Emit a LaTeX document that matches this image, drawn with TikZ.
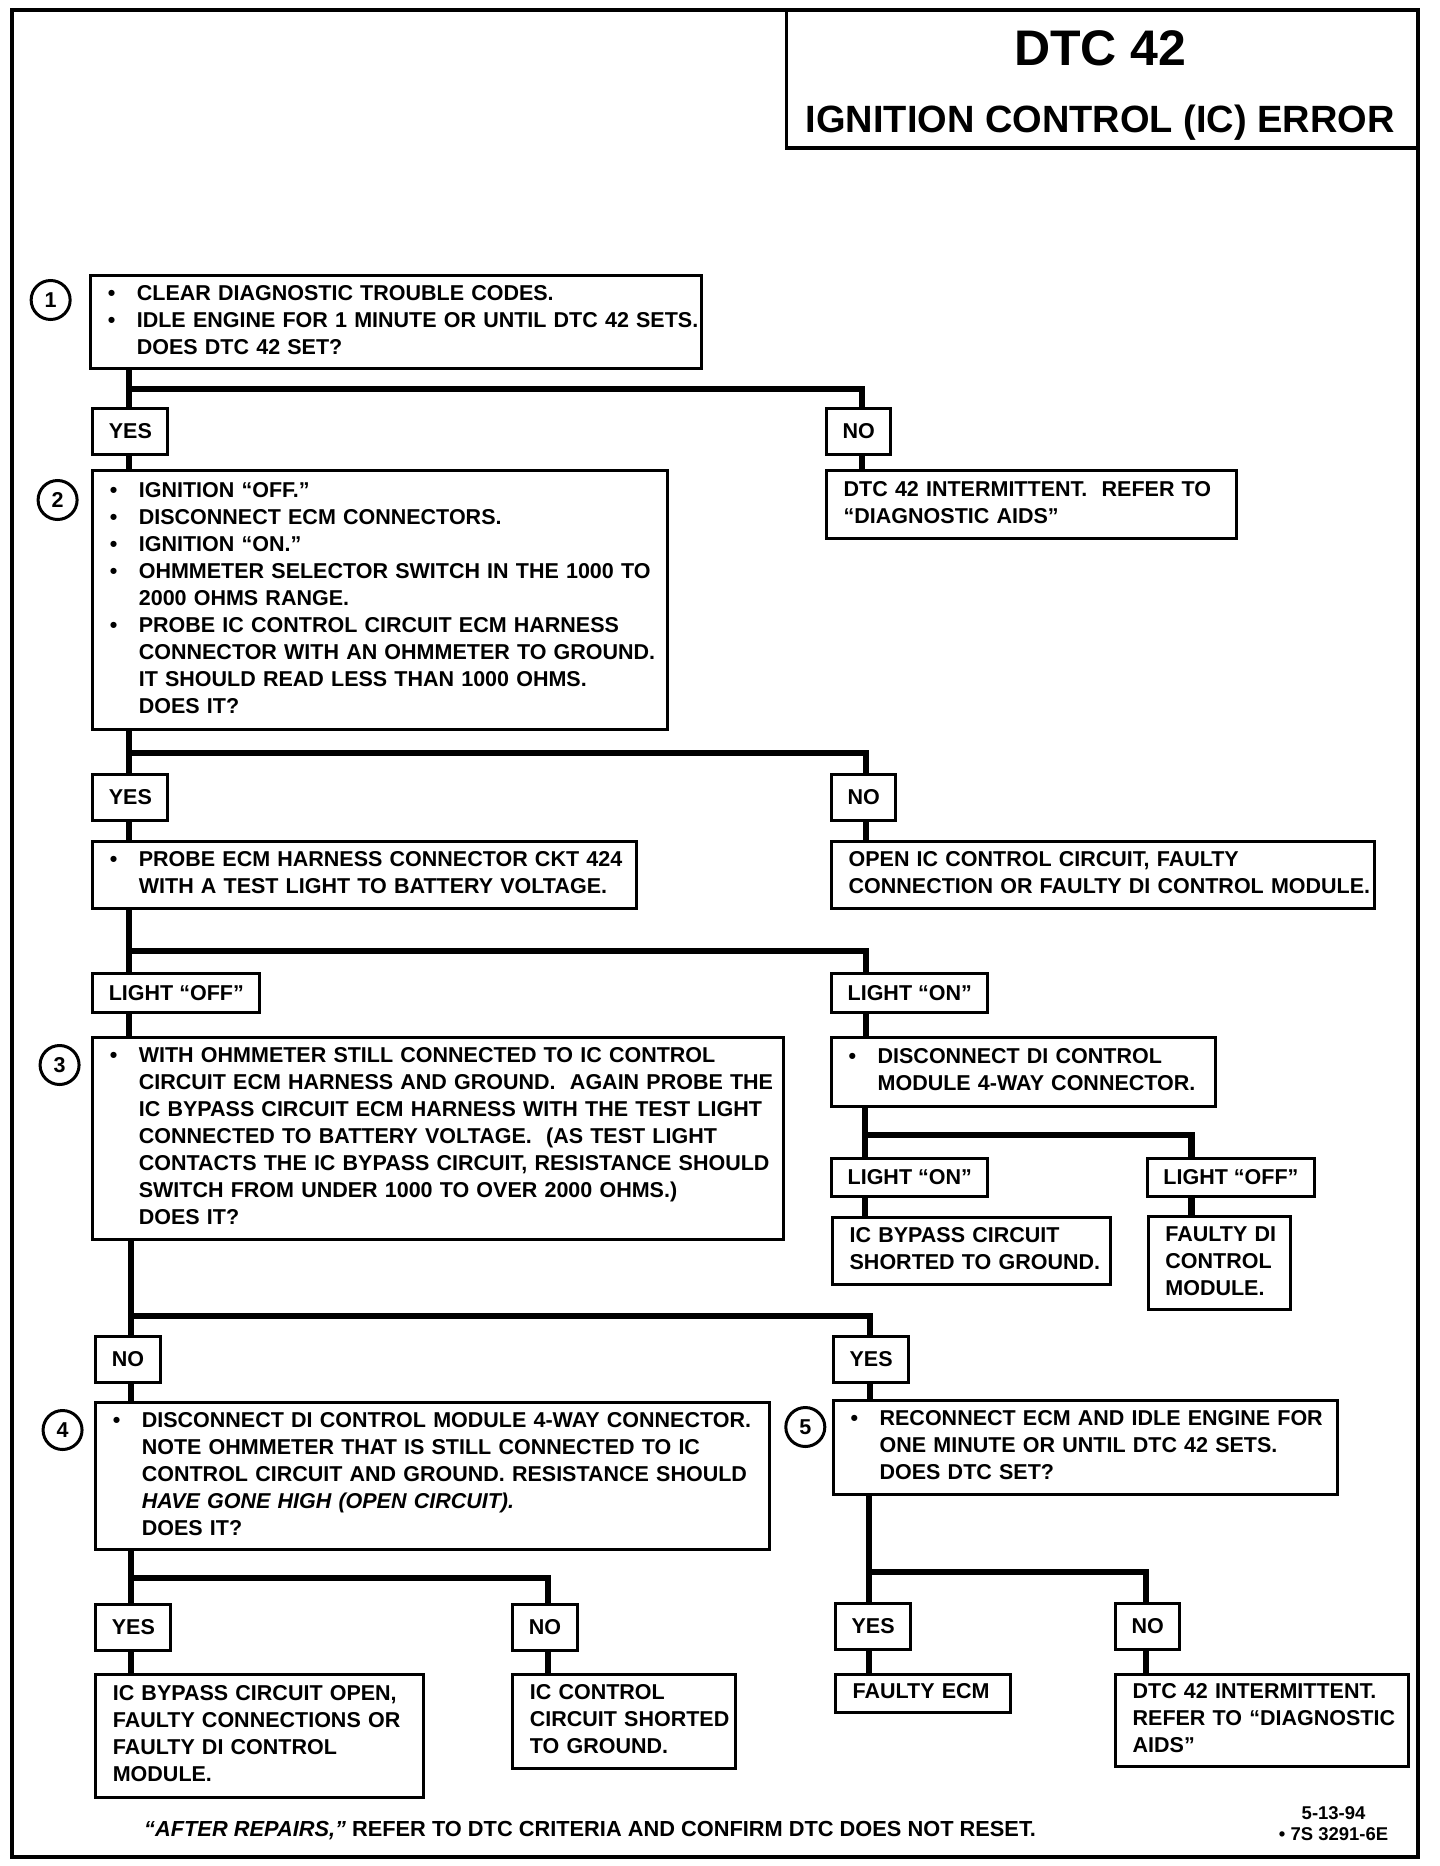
\documentclass[tikz,border=0pt]{standalone}
\usepackage{fontspec}
\setmainfont{Liberation Sans}
\usetikzlibrary{positioning,calc}

\newcommand{\bul}{\makebox[29pt][l]{\textbullet}}
\newcommand{\nobul}{\hspace*{29pt}}
\newcommand{\boxtext}[1]{\noindent\begin{tabular}{@{}l@{}}#1\end{tabular}}

\tikzset{
  flow/.style={line width=6.5pt},
  box/.style={draw, line width=3pt, anchor=north west, inner xsep=17pt, inner ysep=0pt, align=left},
  lbl/.style={draw, line width=3pt, anchor=north west, inner xsep=16pt, inner ysep=0pt, minimum height=46pt},
  num/.style={circle, draw, line width=3pt, minimum size=39pt, inner sep=0pt},
}

\begin{document}
\begin{tikzpicture}[x=1pt,y=-1pt,font=\bfseries\fontsize{21.5}{27}\selectfont]
\useasboundingbox (0,0) rectangle (1440,1866);
\begin{scope}[xscale=0.993]

% frame and title
\draw[line width=3.5pt] (12,10) rectangle (1428,1857);
\draw[line width=3.5pt] (792,10) rectangle (1428,148);
\node[anchor=base, inner sep=0pt, font=\bfseries\fontsize{50}{52}\selectfont] (ttl1) at (1108,65) {DTC 42};
\node[anchor=base, inner sep=0pt, font=\bfseries\fontsize{38}{40}\selectfont] (ttl2) at (1108,132) {IGNITION CONTROL (IC) ERROR};

% step numbers
\foreach \i/\x/\y in {1/51/300, 2/58/500, 3/60/1065, 4/63/1430, 5/811/1427}
  \node[num] (c\i) at (\x,\y) {\i};

% step 1
\node[box, minimum width=611, text width=577, minimum height=93] (b1) at (90,274) {\boxtext{
\bul CLEAR DIAGNOSTIC TROUBLE CODES.\\
\bul IDLE ENGINE FOR 1 MINUTE OR UNTIL DTC 42 SETS.\\
\nobul DOES DTC 42 SET?}};
\node[lbl] (yes1) at (92,407) {YES};
\node[lbl] (no1) at (831,407) {NO};
\node[box, minimum width=410, text width=376, minimum height=68] (r1) at (831,469) {\boxtext{
DTC 42 INTERMITTENT.\ \ REFER TO\\
“DIAGNOSTIC AIDS”}};

% step 2
\node[box, minimum width=575, text width=541, minimum height=259] (b2) at (92,469) {\boxtext{
\bul IGNITION “OFF.”\\
\bul DISCONNECT ECM CONNECTORS.\\
\bul IGNITION “ON.”\\
\bul OHMMETER SELECTOR SWITCH IN THE 1000 TO\\
\nobul 2000 OHMS RANGE.\\
\bul PROBE IC CONTROL CIRCUIT ECM HARNESS\\
\nobul CONNECTOR WITH AN OHMMETER TO GROUND.\\
\nobul IT SHOULD READ LESS THAN 1000 OHMS.\\
\nobul DOES IT?}};
\node[lbl] (yes2) at (92,773) {YES};
\node[lbl] (no2) at (836,773) {NO};
\node[box, minimum width=544, text width=510, minimum height=67] (probe) at (92,840) {\boxtext{
\bul PROBE ECM HARNESS CONNECTOR CKT 424\\
\nobul WITH A TEST LIGHT TO BATTERY VOLTAGE.}};
\node[box, minimum width=543, text width=509, minimum height=67] (r2) at (836,840) {\boxtext{
OPEN IC CONTROL CIRCUIT, FAULTY\\
CONNECTION OR FAULTY DI CONTROL MODULE.}};
\node[lbl, minimum height=39] (loff) at (92,972) {LIGHT “OFF”};
\node[lbl, minimum height=39] (lon) at (836,972) {LIGHT “ON”};

% step 3
\node[box, minimum width=691, text width=657, minimum height=202] (b3) at (92,1036) {\boxtext{
\bul WITH OHMMETER STILL CONNECTED TO IC CONTROL\\
\nobul CIRCUIT ECM HARNESS AND GROUND.\ \ AGAIN PROBE THE\\
\nobul IC BYPASS CIRCUIT ECM HARNESS WITH THE TEST LIGHT\\
\nobul CONNECTED TO BATTERY VOLTAGE.\ \ (AS TEST LIGHT\\
\nobul CONTACTS THE IC BYPASS CIRCUIT, RESISTANCE SHOULD\\
\nobul SWITCH FROM UNDER 1000 TO OVER 2000 OHMS.)\\
\nobul DOES IT?}};
\node[box, minimum width=384, text width=350, minimum height=69] (disc) at (836,1036) {\boxtext{
\bul DISCONNECT DI CONTROL\\
\nobul MODULE 4-WAY CONNECTOR.}};
\node[lbl, minimum height=38] (slon) at (836,1157) {LIGHT “ON”};
\node[lbl, minimum height=38] (sloff) at (1154,1157) {LIGHT “OFF”};
\node[box, minimum width=278, text width=244, minimum height=67] (r3) at (837,1216) {\boxtext{
IC BYPASS CIRCUIT\\
SHORTED TO GROUND.}};
\node[box, minimum width=142, text width=108, minimum height=93] (r4) at (1155,1215) {\boxtext{
FAULTY DI\\
CONTROL\\
MODULE.}};
\node[lbl] (no3) at (95,1335) {NO};
\node[lbl] (yes3) at (838,1335) {YES};

% steps 4 and 5
\node[box, minimum width=674, text width=640, minimum height=147] (b4) at (95,1401) {\boxtext{
\bul DISCONNECT DI CONTROL MODULE 4-WAY CONNECTOR.\\
\nobul NOTE OHMMETER THAT IS STILL CONNECTED TO IC\\
\nobul CONTROL CIRCUIT AND GROUND. RESISTANCE SHOULD\\
\nobul \textit{HAVE GONE HIGH (OPEN CIRCUIT).}\\
\nobul DOES IT?}};
\node[box, minimum width=504, text width=470, minimum height=94] (b5) at (838,1399) {\boxtext{
\bul RECONNECT ECM AND IDLE ENGINE FOR\\
\nobul ONE MINUTE OR UNTIL DTC 42 SETS.\\
\nobul DOES DTC SET?}};
\node[lbl] (yes4) at (95,1603) {YES};
\node[lbl] (no4) at (515,1603) {NO};
\node[lbl] (yes5) at (840,1602) {YES};
\node[lbl] (no5) at (1122,1602) {NO};
\node[box, minimum width=328, text width=294, minimum height=123] (r5) at (95,1673) {\boxtext{
IC BYPASS CIRCUIT OPEN,\\
FAULTY CONNECTIONS OR\\
FAULTY DI CONTROL\\
MODULE.}};
\node[box, minimum width=223, text width=189, minimum height=94] (r6) at (515,1673) {\boxtext{
IC CONTROL\\
CIRCUIT SHORTED\\
TO GROUND.}};
\node[box, minimum width=175, text width=141, minimum height=38] (r7) at (840,1673) {\boxtext{
FAULTY ECM}};
\node[box, minimum width=293, text width=259, minimum height=92] (r8) at (1122,1673) {\boxtext{
DTC 42 INTERMITTENT.\\
REFER TO “DIAGNOSTIC\\
AIDS”}};

% footer
\node[anchor=base west, inner sep=0pt, font=\bfseries\fontsize{21.8}{27}\selectfont] (foot) at (145,1836) {\textit{“AFTER REPAIRS,”} REFER TO DTC CRITERIA AND CONFIRM DTC DOES NOT RESET.};
\node[anchor=north, align=center, inner sep=0pt, font=\bfseries\fontsize{18.5}{21}\selectfont] (code) at (1343,1806) {5-13-94\\\textbullet\ 7S 3291-6E};

% forks
\coordinate (f1l) at (130,389);  \coordinate (f1r) at (868,389);
\coordinate (f2l) at (130,753);  \coordinate (f2r) at (872,753);
\coordinate (f3l) at (130,951);  \coordinate (f3r) at (872,951);
\coordinate (f3a) at (871,1135); \coordinate (f3b) at (1200,1135);
\coordinate (f4l) at (132,1316); \coordinate (f4r) at (876,1316);
\coordinate (f5l) at (132,1578); \coordinate (f5r) at (552,1578);
\coordinate (f6l) at (875,1572); \coordinate (f6r) at (1154,1572);

% connectors
\draw[flow] (b1.south -| f1l) -- (f1l) -- (f1r) -- (no1.north -| f1r);
\draw[flow] (f1l) -- (yes1.north -| f1l);
\draw[flow] (yes1.south -| f1l) -- (b2.north -| f1l);
\draw[flow] (no1.south -| f1r) -- (r1.north -| f1r);

\draw[flow] (b2.south -| f2l) -- (f2l) -- (f2r) -- (no2.north -| f2r);
\draw[flow] (f2l) -- (yes2.north -| f2l);
\draw[flow] (yes2.south -| f2l) -- (probe.north -| f2l);
\draw[flow] (no2.south -| f2r) -- (r2.north -| f2r);

\draw[flow] (probe.south -| f3l) -- (f3l) -- (f3r) -- (lon.north -| f3r);
\draw[flow] (f3l) -- (loff.north -| f3l);
\draw[flow] (loff.south -| f3l) -- (b3.north -| f3l);
\draw[flow] (lon.south -| f3r) -- (disc.north -| f3r);

\draw[flow] (disc.south -| f3a) -- (f3a) -- (f3b) -- (sloff.north -| f3b);
\draw[flow] (f3a) -- (slon.north -| f3a);
\draw[flow] (slon.south -| f3a) -- (r3.north -| f3a);
\draw[flow] (sloff.south -| f3b) -- (r4.north -| f3b);

\draw[flow] (b3.south -| f4l) -- (f4l) -- (f4r) -- (yes3.north -| f4r);
\draw[flow] (f4l) -- (no3.north -| f4l);
\draw[flow] (no3.south -| f4l) -- (b4.north -| f4l);
\draw[flow] (yes3.south -| f4r) -- (b5.north -| f4r);

\draw[flow] (b4.south -| f5l) -- (f5l) -- (f5r) -- (no4.north -| f5r);
\draw[flow] (f5l) -- (yes4.north -| f5l);
\draw[flow] (yes4.south -| f5l) -- (r5.north -| f5l);
\draw[flow] (no4.south -| f5r) -- (r6.north -| f5r);

\draw[flow] (b5.south -| f6l) -- (f6l) -- (f6r) -- (no5.north -| f6r);
\draw[flow] (f6l) -- (yes5.north -| f6l);
\draw[flow] (yes5.south -| f6l) -- (r7.north -| f6l);
\draw[flow] (no5.south -| f6r) -- (r8.north -| f6r);
\end{scope}
\end{tikzpicture}
\end{document}
